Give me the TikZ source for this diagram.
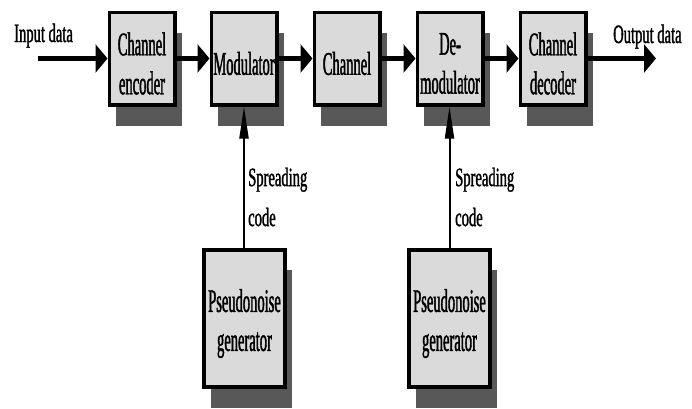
\documentclass[tikz,border=0pt]{standalone}
\usepackage{fontspec}
\setmainfont{Liberation Serif}
\newfontfamily\boxfont[FakeStretch=0.44,FakeBold=1.2]{Liberation Serif}
\newfontfamily\lblfont[FakeStretch=0.55,FakeBold=1.2]{Liberation Serif}
\usetikzlibrary{arrows.meta,shadows}
\definecolor{boxgray}{RGB}{218,218,218}
\definecolor{shadowgray}{RGB}{88,88,88}
\begin{document}
\begin{tikzpicture}[x=1pt,y=-1pt,
  blk/.style={draw=black, line width=3.6pt, fill=boxgray, inner sep=0pt,
    minimum width=65.4pt, minimum height=92.4pt,
    drop shadow={shadow xshift=7pt, shadow yshift=-21pt, fill=shadowgray, opacity=1}},
  pnblk/.style={blk, minimum width=81.4pt, minimum height=137.4pt,
    drop shadow={shadow xshift=7pt, shadow yshift=-20pt, fill=shadowgray, opacity=1}},
  tnode/.style={font=\boxfont\fontsize{33}{39}\selectfont, align=center, inner sep=0pt},
  lbl/.style={font=\lblfont\fontsize{26.5}{40}\selectfont, align=left, inner sep=0pt},
  flow/.style={line width=5pt, -{Triangle[length=12pt,width=28pt]}},
  spreadarrow/.style={line width=2pt, -{Triangle[length=32pt,width=9pt]}}]
\useasboundingbox (0,0) rectangle (692,408);
% blocks
\node[blk] (enc) at (142,58.5) {};
\node[blk] (mod) at (244,58.5) {};
\node[blk] (chan) at (347,58.5) {};
\node[blk] (demod) at (450,58.5) {};
\node[blk] (dec) at (553,58.5) {};
\node[pnblk] (pn1) at (244.5,318.5) {};
\node[pnblk] (pn2) at (449.5,318.5) {};
% block texts
\node[tnode] (tenc) at ([yshift=-5pt]enc.center) {Channel\\encoder};
\node[tnode] (tmod) at ([yshift=-5pt]mod.center) {Modulator};
\node[tnode] (tchan) at ([yshift=-5pt]chan.center) {Channel};
\node[tnode] (tdemod) at ([yshift=-5pt]demod.center) {De-\\modulator};
\node[tnode] (tdec) at ([yshift=-5pt]dec.center) {Channel\\decoder};
\node[tnode] (tpn1) at ([yshift=-5pt]pn1.center) {Pseudonoise\\generator};
\node[tnode] (tpn2) at ([yshift=-5pt]pn2.center) {Pseudonoise\\generator};
% labels
\node[lbl, anchor=base west] (lin) at (14,42) {Input data};
\node[lbl, anchor=base west] (lout) at (613,43) {Output data};
\node[lbl, anchor=north west] (sp1) at (248,167.5) {Spreading\\code};
\node[lbl, anchor=north west] (sp2) at (455,167.5) {Spreading\\code};
% connectors
\coordinate (in) at (38,58.5);
\coordinate (out) at (656,58.5);
\draw[flow] (in) -- (enc.west);
\draw[flow] (enc.east) -- (mod.west);
\draw[flow] (mod.east) -- (chan.west);
\draw[flow] (chan.east) -- (demod.west);
\draw[flow] (demod.east) -- (dec.west);
\draw[flow] (dec.east) -- (out);
\draw[spreadarrow] (pn1.north -| mod.south) -- (mod.south);
\draw[spreadarrow] (pn2.north) -- (pn2.north |- demod.south);
\end{tikzpicture}
\end{document}
